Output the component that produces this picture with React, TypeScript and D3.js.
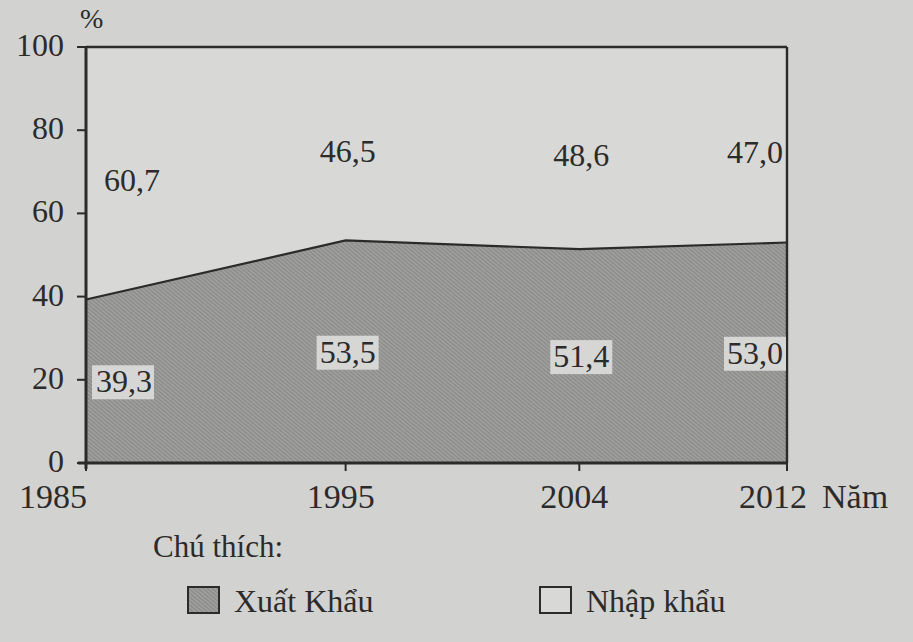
import React from 'react';
import * as d3 from 'd3';

const years = [1985, 1995, 2004, 2012];
const exportShare = [39.3, 53.5, 51.4, 53.0];
const importShare = [60.7, 46.5, 48.6, 47.0];
const yTicks = [0, 20, 40, 60, 80, 100];
const legendItems = ['Xuất Khẩu', 'Nhập khẩu'];

const W = 913;
const H = 642;
const FONT = '"Liberation Serif", "Times New Roman", "DejaVu Serif", serif';
const INK = '#2b2b2b';

export default function App() {
  const x = d3.scaleLinear([1985, 2012], [86, 787]);
  const y = d3.scaleLinear([0, 100], [463, 47]);

  const rows = years.map((yr, i) => ({ yr, ex: exportShare[i], im: importShare[i] }));

  const exportArea = d3
    .area<(typeof rows)[number]>()
    .x((d) => x(d.yr))
    .y0(y(0))
    .y1((d) => y(d.ex))(rows);
  const exportLine = d3
    .line<(typeof rows)[number]>()
    .x((d) => x(d.yr))
    .y((d) => y(d.ex))(rows);

  const last = rows.length - 1;
  const txt = { fontFamily: FONT, fill: INK } as React.CSSProperties;

  return (
    <svg width={W} height={H} style={{ display: 'block', position: 'absolute', left: 0, top: 0 }}>
      <defs>
        <pattern id="hatch" width={3} height={3} patternUnits="userSpaceOnUse" patternTransform="rotate(-50)">
          <rect width={3} height={3} fill="#9e9e9c" />
          <line x1={0} y1={0} x2={0} y2={3} stroke="#747474" strokeWidth={1.1} />
        </pattern>
      </defs>
      <rect width={W} height={H} fill="#d2d2d0" />
      <rect x={x(1985)} y={y(100)} width={x(2012) - x(1985)} height={y(0) - y(100)} fill="#d8d8d6" />

      <path d={exportArea!} fill="url(#hatch)" />
      <path d={exportLine!} fill="none" stroke={INK} strokeWidth={2.2} />

      {/* frame */}
      <line x1={x(1985)} x2={x(2012)} y1={y(100)} y2={y(100)} stroke={INK} strokeWidth={2.6} />
      <line x1={x(2012)} x2={x(2012)} y1={y(100)} y2={y(0)} stroke={INK} strokeWidth={2.4} />
      <line x1={x(1985)} x2={x(1985)} y1={y(100) - 1} y2={y(0) + 6} stroke={INK} strokeWidth={3} />
      <line x1={x(1985) - 8} x2={x(2012)} y1={y(0)} y2={y(0)} stroke={INK} strokeWidth={3} />

      {/* y axis */}
      {yTicks.map((t) => (
        <g key={t}>
          <line x1={x(1985) - 9} x2={x(1985)} y1={y(t)} y2={y(t)} stroke={INK} strokeWidth={2} />
          <text x={x(1985) - 22} y={y(t) + 9} textAnchor="end" style={{ ...txt, fontSize: 32 }}>
            {t}
          </text>
        </g>
      ))}
      <text x={80} y={28} style={{ ...txt, fontSize: 28 }}>
        %
      </text>

      {/* x axis */}
      {years.map((yr, i) => (
        <g key={yr}>
          <line x1={x(yr)} x2={x(yr)} y1={y(0)} y2={y(0) + 8} stroke={INK} strokeWidth={2} />
          <text
            x={i === 0 ? x(yr) + 1 : i === last ? x(yr) - 14 : x(yr) - 5}
            y={508}
            textAnchor={i === 0 ? 'end' : 'middle'}
            style={{ ...txt, fontSize: 34 }}
          >
            {yr}
          </text>
        </g>
      ))}
      <text x={822} y={508} style={{ ...txt, fontSize: 34 }}>
        Năm
      </text>

      {/* value labels */}
      {rows.map((d, i) => {
        const anchor = i === 0 ? 'start' : i === last ? 'end' : 'middle';
        const lx = i === 0 ? x(d.yr) + 10 : i === last ? x(d.yr) - 4 : x(d.yr) + 2;
        const lowY = y(d.ex / 2) + 11;
        const topY = y(d.ex + d.im / 2) + 18;
        const label = (v: number) => v.toFixed(1).replace('.', ',');
        const bw = 62;
        const bx = anchor === 'start' ? lx - 4 : anchor === 'end' ? lx - bw + 3 : lx - bw / 2;
        return (
          <g key={d.yr}>
            <rect x={bx} y={lowY - 27} width={bw} height={34} fill="#d6d6d4" />
            <text x={lx} y={lowY} textAnchor={anchor} style={{ ...txt, fontSize: 32 }}>
              {label(d.ex)}
            </text>
            <text x={i === 0 ? lx + 8 : lx} y={topY} textAnchor={anchor} style={{ ...txt, fontSize: 32 }}>
              {label(d.im)}
            </text>
          </g>
        );
      })}

      {/* legend */}
      <text x={153} y={557} style={{ ...txt, fontSize: 31 }}>
        Chú thích:
      </text>
      {legendItems.map((name, i) => {
        const lx = 188 + i * 352;
        return (
          <g key={name}>
            <rect
              x={lx}
              y={587}
              width={31}
              height={26}
              fill={i === 0 ? 'url(#hatch)' : '#d8d8d6'}
              stroke={INK}
              strokeWidth={2}
            />
            <text x={lx + 46} y={612} style={{ ...txt, fontSize: 32 }}>
              {name}
            </text>
          </g>
        );
      })}
    </svg>
  );
}
